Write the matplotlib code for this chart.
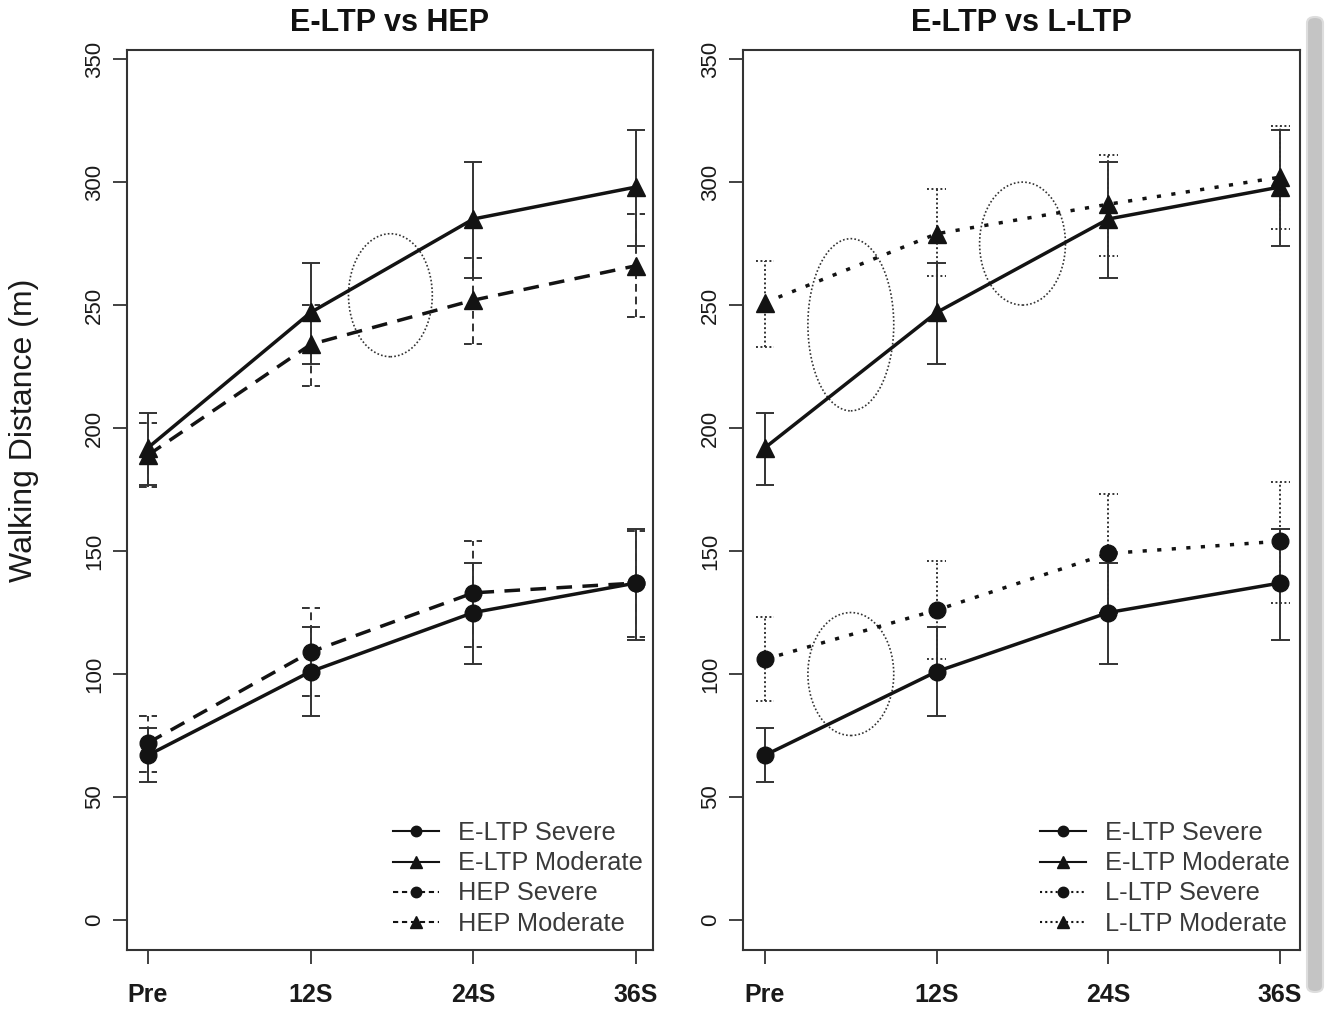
import matplotlib
matplotlib.use("Agg")
import matplotlib.pyplot as plt
from matplotlib.lines import Line2D
from matplotlib.patches import Ellipse, FancyBboxPatch

plt.rcParams['font.family'] = ['Liberation Sans', 'DejaVu Sans']

visits = ["Pre", "12S", "24S", "36S"]
x = [1, 2, 3, 4]

eltp_sev = [67, 101, 125, 137]
eltp_sev_lo = [56, 83, 104, 114]
eltp_sev_hi = [78, 119, 145, 159]
eltp_mod = [192, 247, 285, 298]
eltp_mod_lo = [177, 226, 261, 274]
eltp_mod_hi = [206, 267, 308, 321]

hep_sev = [72, 109, 133, 137]
hep_sev_lo = [60, 91, 111, 115]
hep_sev_hi = [83, 127, 154, 158]
hep_mod = [189, 234, 252, 266]
hep_mod_lo = [176, 217, 234, 245]
hep_mod_hi = [202, 250, 269, 287]

lltp_sev = [106, 126, 149, 154]
lltp_sev_lo = [89, 106, 125, 129]
lltp_sev_hi = [123, 146, 173, 178]
lltp_mod = [251, 279, 291, 302]
lltp_mod_lo = [233, 262, 270, 281]
lltp_mod_hi = [268, 297, 311, 323]

# ellipses: (x centre, y centre, width, height)
ell_left = [(2.49, 254, 0.515, 50)]
ell_right = [(1.5, 242, 0.5, 70), (2.5, 275, 0.5, 50), (1.5, 100, 0.5, 50)]

INK = "#131313"
DASH = (0, (4.5, 3))
DOT = (0, (1.2, 3.0))
EB_DASH = (0, (4, 2.5))
EB_DOT = (0, (1, 1.3))


def series(ax, y, lo, hi, ls, eb_ls, marker, ms):
    for xi, a, b in zip(x, lo, hi):
        ax.vlines(xi, a, b, colors="#333333", lw=1.4, linestyles=eb_ls, zorder=2)
        ax.hlines([a, b], xi - 0.055, xi + 0.055, colors="#333333", lw=1.4,
                  linestyles=eb_ls, zorder=2)
    ax.plot(x, y, color=INK, lw=2.5, linestyle=ls, marker=marker, ms=ms,
            mfc=INK, mec=INK, zorder=3)


def style(ax, title, xlim):
    ax.set_xlim(*xlim)
    ax.set_ylim(-12.2, 353.7)
    ax.set_xticks(x)
    ax.set_xticklabels(visits, fontweight="bold", fontsize=18)
    ax.set_yticks(range(0, 351, 50))
    ax.set_yticklabels([str(v) for v in range(0, 351, 50)], rotation=90,
                       va="center", fontsize=16)
    ax.tick_params(axis="both", length=10, width=1.3, color="#333333",
                   labelcolor="#1a1a1a")
    ax.tick_params(axis="y", pad=6)
    ax.tick_params(axis="x", pad=14)
    for s in ax.spines.values():
        s.set_linewidth(1.5)
        s.set_color("#333333")
    ax.set_title(title, fontweight="bold", fontsize=22, pad=14, color="#111111")


def legend(ax, labels, ls, xa):
    handles = [
        Line2D([], [], color=INK, lw=1.5, linestyle="-", marker="o", ms=7.5),
        Line2D([], [], color=INK, lw=1.5, linestyle="-", marker="^", ms=8.5),
        Line2D([], [], color=INK, lw=1.5, linestyle=ls, marker="o", ms=7.5),
        Line2D([], [], color=INK, lw=1.5, linestyle=ls, marker="^", ms=8.5),
    ]
    leg = ax.legend(handles, labels, loc="lower left", bbox_to_anchor=(xa, 0.016),
                    frameon=False, fontsize=18.3, handlelength=1.8,
                    handletextpad=0.75, labelspacing=0.24, borderpad=0,
                    borderaxespad=0, numpoints=1)
    for t in leg.get_texts():
        t.set_color("#3a3a3a")


fig = plt.figure(figsize=(13.34, 10.10), dpi=100)
ax1 = fig.add_axes([127 / 1334, 60 / 1010, 526 / 1334, 900 / 1010])
ax2 = fig.add_axes([743 / 1334, 60 / 1010, 557 / 1334, 900 / 1010])

series(ax1, eltp_sev, eltp_sev_lo, eltp_sev_hi, "-", "-", "o", 12)
series(ax1, eltp_mod, eltp_mod_lo, eltp_mod_hi, "-", "-", "^", 12.5)
series(ax1, hep_sev, hep_sev_lo, hep_sev_hi, DASH, EB_DASH, "o", 12)
series(ax1, hep_mod, hep_mod_lo, hep_mod_hi, DASH, EB_DASH, "^", 12.5)

series(ax2, eltp_sev, eltp_sev_lo, eltp_sev_hi, "-", "-", "o", 12)
series(ax2, eltp_mod, eltp_mod_lo, eltp_mod_hi, "-", "-", "^", 12.5)
series(ax2, lltp_sev, lltp_sev_lo, lltp_sev_hi, DOT, EB_DOT, "o", 12)
series(ax2, lltp_mod, lltp_mod_lo, lltp_mod_hi, DOT, EB_DOT, "^", 12.5)

for ax, ells in [(ax1, ell_left), (ax2, ell_right)]:
    for cx, cy, w, h in ells:
        ax.add_patch(Ellipse((cx, cy), w, h, fill=False, ec="#333333", lw=1.2,
                             linestyle=(0, (1, 1.3)), zorder=2))

style(ax1, "E-LTP vs HEP", (0.871, 4.104))
style(ax2, "E-LTP vs L-LTP", (0.872, 4.116))

legend(ax1, ["E-LTP Severe", "E-LTP Moderate", "HEP Severe", "HEP Moderate"],
       (0, (2.5, 1.8)), 0.506)
legend(ax2, ["E-LTP Severe", "E-LTP Moderate", "L-LTP Severe", "L-LTP Moderate"],
       (0, (1, 1.5)), 0.533)

fig.text(24 / 1334, 1 - 430 / 1010, "Walking Distance (m)", rotation=90,
         ha="center", va="center", fontsize=23, color="#1a1a1a")

# scrollbar at the right edge of the screenshot
fig.patches.append(FancyBboxPatch((1307 / 1334, 18 / 1010), 16 / 1334, 975 / 1010,
                                  boxstyle="round,pad=0,rounding_size=0.006",
                                  transform=fig.transFigure, fc="#c4c4c4",
                                  ec="#dddddd", lw=1.5))

fig.savefig("out.png", dpi=100)
